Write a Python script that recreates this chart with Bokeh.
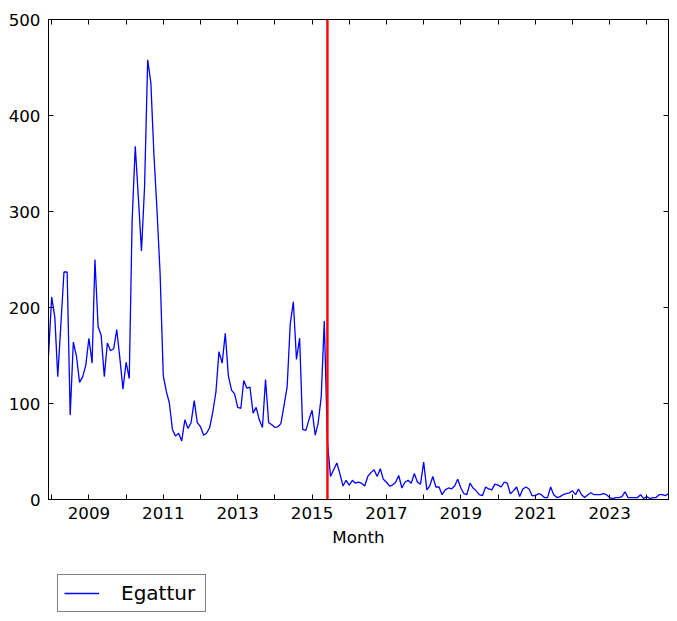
import pandas as pd
from bokeh.plotting import figure
from bokeh.layouts import column
from bokeh.models import (ColumnDataSource, Range1d, FixedTicker,
                          CustomJSTickFormatter, DatetimeAxis, LinearAxis, Span,
                          Legend, LegendItem)
from bokeh.embed import file_html
from bokeh.resources import INLINE

# ---------------- data ----------------
series_name = "Egattur"
first_month = "2007-12-01"
marker_date = "2015-06-01"
# monthly values, Dec 2007 ... Aug 2024
egattur = [
    150,                                                          # 2007-12
    211, 190, 128, 183, 237, 237, 88, 164, 149, 122, 128, 140,   # 2008
    168, 142, 250, 180, 171, 128, 163, 155, 157, 177, 147, 115,  # 2009
    143, 126, 290, 368, 315, 259, 325, 458, 434, 360, 300, 235,  # 2010
    129, 112, 101, 73, 66, 69, 61, 83, 74, 80, 103, 80,          # 2011
    76, 67, 69, 75, 91, 112, 154, 142, 173, 129, 114, 110,       # 2012
    96, 95, 124, 116, 117, 90, 96, 83, 75, 125, 80, 78,          # 2013
    75, 76, 79, 98, 117, 183, 206, 146, 168, 73, 72, 83,         # 2014
    93, 67, 79, 107, 186, 60, 24, 31, 38, 27, 14, 20,            # 2015
    15, 20, 17, 18, 17, 14, 24, 28, 31, 24, 32, 21,              # 2016
    18, 14, 15, 18, 25, 12, 18, 20, 17, 27, 18, 16,              # 2017
    39, 10, 14, 24, 13, 13, 5, 10, 12, 11, 14, 21,               # 2018
    12, 6, 5, 17, 12, 9, 5, 4, 13, 11, 10, 16,                   # 2019
    15, 13, 18, 17, 6, 9, 13, 3, 11, 13, 11, 4,                  # 2020
    4, 6, 5, 2, 2, 13, 5, 2, 3, 5, 6, 7,                         # 2021
    9, 5, 11, 5, 2, 5, 7, 5, 5, 5, 6, 5,                         # 2022
    2, 1, 2, 2, 3, 8, 2, 2, 2, 2, 5, 1,                          # 2023
    3, 1, 2, 2, 5, 5, 4, 6,                                      # 2024
]
tick_years = list(range(2008, 2025))
y_ticks = [0, 100, 200, 300, 400, 500]
x_label = "Month"

months = pd.date_range(first_month, periods=len(egattur), freq="MS")
source = ColumnDataSource(data=dict(month=months, count=egattur))

def ms(ts):
    return pd.Timestamp(ts).value / 1e6

FONT = "DejaVu Sans"
FS = "16.7px"
LINE_STYLE = dict(line_color="blue", line_width=1.3)

# ---------------- main chart ----------------
p = figure(width=677, height=560, x_axis_type="datetime",
           output_backend="svg", toolbar_location=None,
           x_range=Range1d(ms(months[0]), ms(months[-1])),
           y_range=Range1d(0, 500),
           min_border_left=48, min_border_right=9,
           min_border_top=19, min_border_bottom=61)
p.background_fill_color = "white"
p.border_fill_color = "white"
p.outline_line_color = "black"
p.outline_line_width = 1
p.xgrid.visible = False
p.ygrid.visible = False

p.line(x="month", y="count", source=source, **LINE_STYLE)

p.add_layout(Span(location=ms(marker_date), dimension="height",
                  line_color="red", line_width=2.4))

x_ticker = FixedTicker(ticks=[ms(f"{y}-01-01") for y in tick_years])
odd_fmt = CustomJSTickFormatter(code="""
    const y = new Date(tick).getUTCFullYear();
    return (y % 2 == 1) ? String(y) : "";
""")
blank_fmt = CustomJSTickFormatter(code="return '';")

def style_axis(ax):
    ax.major_tick_in = 5
    ax.major_tick_out = 0
    ax.minor_tick_in = 0
    ax.minor_tick_out = 0
    ax.axis_line_color = "black"
    ax.major_tick_line_color = "black"
    ax.major_label_text_font = FONT
    ax.major_label_text_font_size = FS
    ax.major_label_text_color = "black"

xa = p.xaxis[0]
xa.ticker = x_ticker
xa.formatter = odd_fmt
style_axis(xa)
xa.major_label_standoff = 7
xa.axis_label = x_label
xa.axis_label_text_font = FONT
xa.axis_label_text_font_size = FS
xa.axis_label_text_font_style = "normal"
xa.axis_label_text_color = "black"
xa.axis_label_standoff = 5

ya = p.yaxis[0]
ya.ticker = FixedTicker(ticks=y_ticks)
style_axis(ya)
ya.major_label_standoff = 8

top = DatetimeAxis(ticker=x_ticker, formatter=blank_fmt)
style_axis(top)
top.major_label_text_font_size = "0px"
top.major_label_standoff = 0
p.add_layout(top, "above")

right = LinearAxis(ticker=FixedTicker(ticks=y_ticks), formatter=blank_fmt)
style_axis(right)
right.major_label_text_font_size = "0px"
right.major_label_standoff = 0
p.add_layout(right, "right")

# ---------------- legend strip below the chart ----------------
lg = figure(width=677, height=61, output_backend="svg", toolbar_location=None,
            x_axis_type="datetime", x_axis_location=None, y_axis_location=None,
            x_range=Range1d(ms(months[0]), ms(months[-1])),
            y_range=Range1d(-1000, -900),   # series kept out of view: legend key only
            min_border=0)
lg.outline_line_color = None
lg.xgrid.visible = False
lg.ygrid.visible = False
lg.background_fill_color = "white"
lg.border_fill_color = "white"
key = lg.line(x="month", y="count", source=source, **LINE_STYLE)

legend = Legend(items=[LegendItem(label=series_name, renderers=[key])],
                location=(9, 9))
legend.label_text_font = FONT
legend.label_text_font_size = "20px"
legend.label_text_color = "black"
legend.border_line_color = "black"
legend.border_line_width = 1
legend.background_fill_color = "white"
legend.background_fill_alpha = 1
legend.glyph_width = 35
legend.label_standoff = 22
legend.label_width = 78
legend.padding = 6
legend.spacing = 0
legend.margin = 0
lg.add_layout(legend)

layout = column(p, lg, spacing=0)
open("out.html", "w").write(file_html(layout, INLINE))
